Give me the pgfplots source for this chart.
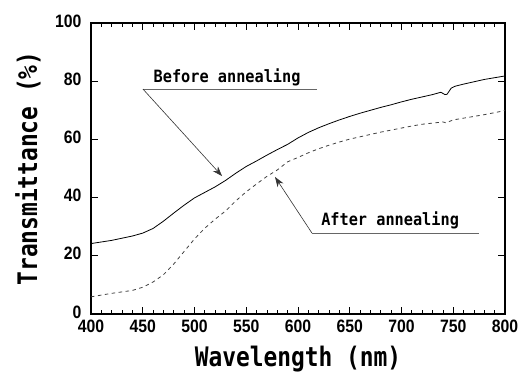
\documentclass[border=0pt]{standalone}
\usepackage{fontspec}
\usepackage{pgfplots}
\pgfplotsset{compat=1.18}
\usetikzlibrary{arrows.meta}
\setmainfont{Liberation Sans}
\newfontfamily\labfont[FakeStretch=0.85]{DejaVu Sans Mono Bold}
\newfontfamily\annfont[FakeStretch=0.9]{DejaVu Sans Mono Bold}
\newfontfamily\tickfont[FakeStretch=0.88]{Liberation Sans Bold}
\begin{document}
\begin{tikzpicture}
\begin{axis}[
  scale only axis,
  width=414bp, height=291bp,
  xmin=400, xmax=800, ymin=0, ymax=100,
  xtick={400,450,...,800},
  minor x tick num=4,
  ytick={0,20,...,100},
  tick align=inside,
  major tick length=7bp,
  minor tick length=4bp,
  axis line style={line width=1.1bp},
  every tick/.style={black, line width=0.8bp},
  /pgf/number format/assume math mode=true,
  ticklabel style={font=\tickfont\fontsize{18}{18}\selectfont},
  xticklabel style={yshift=-2bp},
  yticklabel style={xshift=-6bp, yshift=2bp},
  xlabel={\labfont\fontsize{27}{27}\selectfont Wavelength (nm)},
  ylabel={\labfont\fontsize{27}{27}\selectfont Transmittance (\%)},
  xlabel style={at={(axis description cs:0.5,-0.155)}, anchor=center},
  ylabel style={at={(axis description cs:-0.152,0.5)}, anchor=center},
  clip=false,
]
\addplot[black, line width=0.8bp] coordinates {
(400,24.2)(420,25.3)(440,26.8)(450,27.8)(460,29.4)(470,31.9)(480,34.7)(490,37.4)
(500,39.9)(510,41.8)(520,43.7)(530,45.9)(540,48.4)(550,50.7)(560,52.6)(570,54.6)
(580,56.5)(590,58.3)(600,60.5)(610,62.4)(620,64.0)(630,65.4)(640,66.7)(650,67.9)
(660,69.0)(670,70.0)(680,71.0)(690,71.9)(700,72.9)(710,73.8)(720,74.6)(730,75.4)
(738,76.2)(742,75.4)(744,75.5)(748,77.6)(752,78.3)(760,79.0)(770,79.8)(780,80.6)
(790,81.2)(800,81.8)
};
\addplot[black!75, line width=0.8bp, dash pattern=on 3.5bp off 3.5bp] coordinates {
(400,5.9)(420,7.1)(440,8.1)(450,9.2)(460,11.0)(470,13.5)(480,17.2)(490,21.5)
(500,25.8)(510,29.5)(520,32.6)(530,35.4)(540,38.9)(550,42.0)(560,44.7)(570,47.3)
(580,49.5)(590,52.3)(600,53.8)(610,55.4)(620,56.8)(630,58.0)(640,59.1)(650,60.1)
(660,60.9)(670,61.7)(680,62.5)(690,63.2)(700,63.9)(710,64.6)(720,65.2)(730,65.6)
(740,66.0)(743,65.7)(750,66.7)(760,67.3)(770,67.9)(780,68.5)(790,69.2)(800,69.9)
};
% annotations
\draw[black!60, line width=0.6bp] (axis cs:618.4,77.3) -- (axis cs:450.2,77.3);
\draw[black!80, line width=0.6bp, -{Stealth[length=10bp,width=7bp]}] (axis cs:450.2,77.3) -- (axis cs:526.6,47.4);
\node[anchor=base, font=\annfont\fontsize{17}{17}\selectfont] at (axis cs:531.5,79.6) {Before annealing};
\draw[black!60, line width=0.6bp] (axis cs:774.9,27.8) -- (axis cs:613.5,27.8);
\draw[black!80, line width=0.6bp, -{Stealth[length=10bp,width=7bp]}] (axis cs:613.5,27.8) -- (axis cs:577.8,47.1);
\node[anchor=base, font=\annfont\fontsize{17}{17}\selectfont] at (axis cs:689,30.3) {After annealing};
\end{axis}
\pgfresetboundingbox
\path (current axis.south west) ++(-91bp,-60bp) coordinate (bbA);
\path (current axis.north east) ++(19bp,23bp) coordinate (bbB);
\path[use as bounding box] (bbA) rectangle (bbB);
\end{tikzpicture}
\end{document}
